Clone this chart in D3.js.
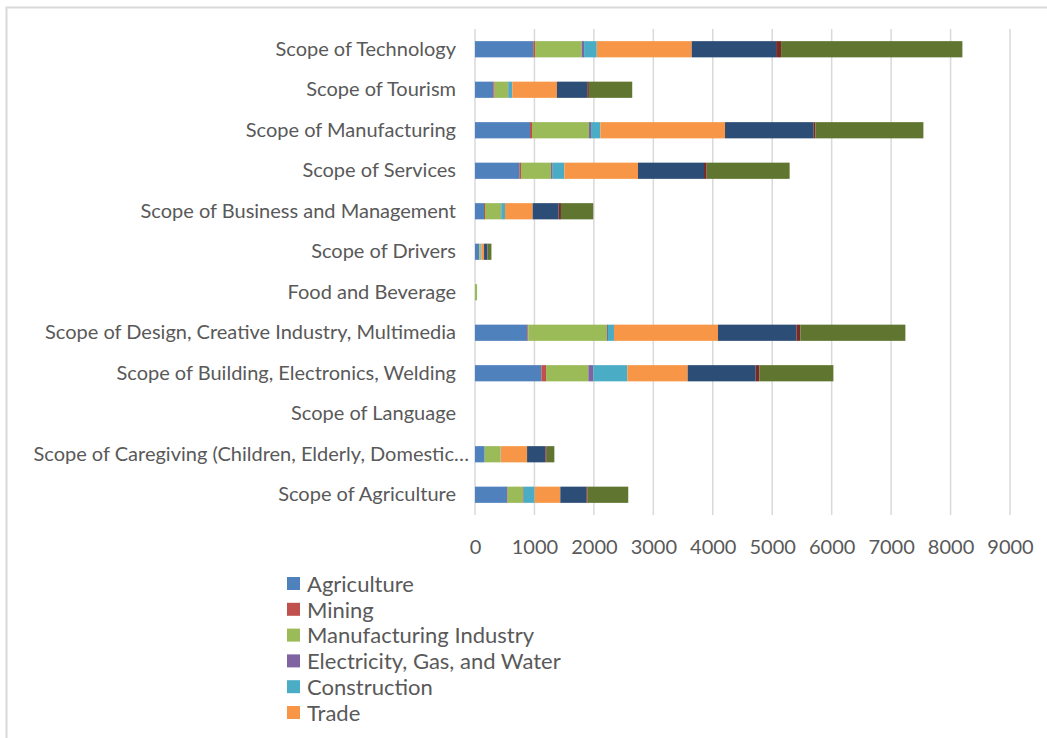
<!DOCTYPE html>
<html>
<head>
<meta charset="utf-8">
<script src="https://cdn.jsdelivr.net/npm/d3@7/dist/d3.min.js"></script>
<style>
  html, body { margin: 0; padding: 0; background: #fff; }
  svg { display: block; }
  text { font-family: Lato, "Open Sans", sans-serif; fill: #595959; }
</style>
</head>
<body>
<svg id="chart" width="1047" height="738"></svg>
<script>
// Categories, listed top to bottom as drawn
const categories = [
  "Scope of Technology",
  "Scope of Tourism",
  "Scope of Manufacturing",
  "Scope of Services",
  "Scope of Business and Management",
  "Scope of Drivers",
  "Food and Beverage",
  "Scope of Design, Creative Industry, Multimedia",
  "Scope of Building, Electronics, Welding",
  "Scope of Language",
  "Scope of Caregiving (Children, Elderly, Domestic Work)",
  "Scope of Agriculture"
];

// Sectors, stacked left to right
const seriesNames = [
  "Agriculture",
  "Mining",
  "Manufacturing Industry",
  "Electricity, Gas, and Water",
  "Construction",
  "Trade",
  "Transportation and Communication",
  "Finance",
  "Services"
];

const seriesColors = [
  "#4F81BD", "#C0504D", "#9BBB59", "#8064A2", "#4BACC6",
  "#F79646", "#2C4D75", "#772C2A", "#5F7530"
];

// One array per sector, values in category order
const agriculture   = [980, 308, 925, 746, 151, 73, 0, 880, 1116, 0, 163, 538];
const mining        = [30, 22, 34, 28, 17, 0, 0, 17, 79, 0, 0, 11];
const manufacturing = [785, 224, 959, 505, 269, 17, 35, 1323, 712, 0, 264, 264];
const electricity   = [40, 11, 34, 28, 6, 0, 0, 17, 84, 0, 0, 11];
const construction  = [213, 62, 157, 196, 62, 17, 0, 101, 572, 0, 6, 179];
const trade         = [1598, 751, 2097, 1239, 465, 45, 0, 1750, 1015, 0, 443, 432];
const transport     = [1419, 510, 1486, 1110, 437, 56, 0, 1318, 1144, 0, 308, 437];
const finance       = [84, 28, 34, 45, 39, 6, 0, 67, 62, 0, 22, 22];
const services      = [3050, 729, 1817, 1396, 544, 62, 0, 1767, 1245, 0, 129, 684];

const seriesValues = [agriculture, mining, manufacturing, electricity, construction,
                      trade, transport, finance, services];

const xTicks = [0, 1000, 2000, 3000, 4000, 5000, 6000, 7000, 8000, 9000];

// Rows for d3.stack
const rows = categories.map((c, i) => {
  const r = { category: c };
  seriesNames.forEach((s, j) => { r[s] = seriesValues[j][i]; });
  return r;
});

const W = 1047, H = 738;
const svg = d3.select("#chart");

// Chart area outline (only the top and left edges fall inside the page)
svg.append("rect")
  .attr("x", 6.5).attr("y", 7.5)
  .attr("width", 1200).attr("height", 900)
  .attr("fill", "none")
  .attr("stroke", "#d9d9d9")
  .attr("stroke-width", 2);

const x = d3.scaleLinear().domain([0, 9000]).range([475, 1010]);
const y = d3.scaleBand().domain(categories).range([29, 515])
  .paddingInner(0.6).paddingOuter(0.3);

// Vertical gridlines
svg.append("g")
  .selectAll("line")
  .data(xTicks)
  .join("line")
  .attr("x1", d => x(d)).attr("x2", d => x(d))
  .attr("y1", 29).attr("y2", 515)
  .attr("stroke", "#d9d9d9")
  .attr("stroke-width", 1.5);

// Stacked bars
const stacked = d3.stack().keys(seriesNames)(rows);
const color = d3.scaleOrdinal().domain(seriesNames).range(seriesColors);

svg.append("g")
  .selectAll("g")
  .data(stacked)
  .join("g")
  .attr("fill", d => color(d.key))
  .selectAll("rect")
  .data(d => d.filter(p => p[1] - p[0] > 0))
  .join("rect")
  .attr("x", d => x(d[0]))
  .attr("width", d => x(d[1]) - x(d[0]))
  .attr("y", d => y(d.data.category))
  .attr("height", y.bandwidth());

// X axis labels
const xAxis = d3.axisBottom(x).tickValues(xTicks).tickSize(0).tickPadding(0)
  .tickFormat(d3.format("d"));
const gx = svg.append("g").attr("transform", "translate(0,540)").call(xAxis);
gx.select(".domain").remove();
gx.selectAll("text")
  .attr("dy", "0.71em")
  .style("font-size", "20px")
  .style("font-family", "Lato, sans-serif")
  .attr("fill", "#595959");

// Category labels (long ones are shortened with an ellipsis)
const maxLabelWidth = 440;
const yAxis = d3.axisLeft(y).tickSize(0).tickPadding(0);
const gy = svg.append("g").attr("transform", "translate(456,0)").call(yAxis);
gy.select(".domain").remove();
gy.selectAll("text")
  .style("font-size", "20px")
  .style("font-family", "Lato, sans-serif")
  .attr("fill", "#595959")
  .each(function () {
    const t = d3.select(this);
    let s = t.text();
    if (this.getComputedTextLength() > maxLabelWidth) {
      while (s.length > 0 && this.getComputedTextLength() > maxLabelWidth) {
        s = s.slice(0, -1);
        t.text(s.trimEnd() + "…");
      }
      t.attr("x", 13);
    }
  });

// Legend: only the entries that fit above the bottom edge are shown
const rowH = 25.8, legendTop = 577;
const legendItems = seriesNames.filter((d, i) => legendTop + i * rowH + 22 <= H);
const legend = svg.append("g").attr("transform", `translate(287,${legendTop})`);
const item = legend.selectAll("g")
  .data(legendItems)
  .join("g")
  .attr("transform", (d, i) => `translate(0,${i * rowH})`);
item.append("rect")
  .attr("width", 13).attr("height", 13)
  .attr("fill", d => color(d));
item.append("text")
  .attr("x", 20).attr("y", 7)
  .attr("dy", "0.35em")
  .style("font-size", "22px")
  .text(d => d);
</script>
</body>
</html>
